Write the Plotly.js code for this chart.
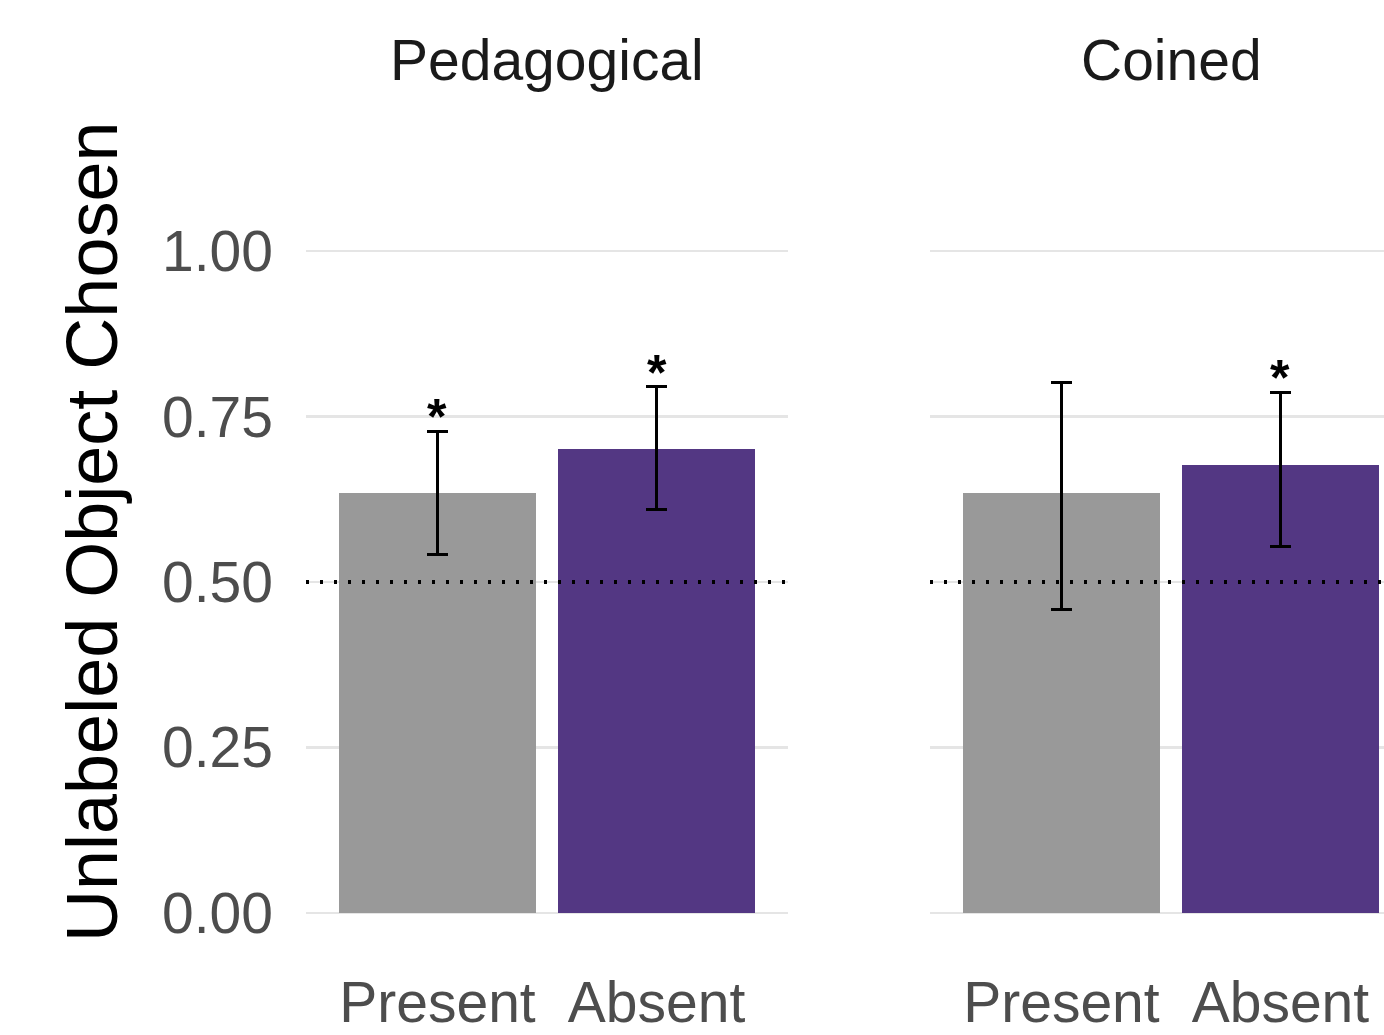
<!DOCTYPE html>
<html>
<head>
<meta charset="utf-8">
<script src="https://cdn.plot.ly/plotly-3.0.1.min.js"></script>
<style>html,body{margin:0;padding:0;background:#fff;}#chart{width:1384px;height:1035px;}</style>
</head>
<body>
<div id="chart"></div>
<script>
// Data
const panels = ["Pedagogical", "Coined"];
const conditions = ["Present", "Absent"];
const pedMean = [0.634, 0.701];
const pedUpper = [0.728, 0.795];
const pedLower = [0.541, 0.610];
const pedSig = ["*", "*"];
const coiMean = [0.634, 0.677];
const coiUpper = [0.801, 0.787];
const coiLower = [0.458, 0.554];
const coiSig = ["", "*"];
const chance = 0.5;
const yTicks = [0, 0.25, 0.5, 0.75, 1.0];
const yTickText = ["0.00", "0.25", "0.50", "0.75", "1.00"];
const yTitle = "Unlabeled Object Chosen";

const barColors = ["#999999", "#533783"];
const xpos = [1, 2];
const FONT = "Liberation Sans, Arial, sans-serif";

function barTrace(means, upper, lower, xa) {
  return {
    type: "bar",
    x: xpos,
    y: means,
    width: 0.9,
    xaxis: xa, yaxis: "y",
    marker: {color: barColors, line: {width: 0}},
    error_y: {
      type: "data", symmetric: false,
      array: upper.map((u, i) => u - means[i]),
      arrayminus: means.map((m, i) => m - lower[i]),
      color: "#000000", thickness: 3, width: 10.5
    },
    hoverinfo: "skip",
    showlegend: false
  };
}

const traces = [
  barTrace(pedMean, pedUpper, pedLower, "x"),
  barTrace(coiMean, coiUpper, coiLower, "x2")
];

const annotations = [];
function addSig(sig, upper, xref) {
  sig.forEach((s, i) => {
    if (!s) return;
    annotations.push({
      text: "<b>" + s + "</b>", x: xpos[i], y: upper[i], xref: xref, yref: "y",
      showarrow: false, yanchor: "bottom", yshift: -16,
      font: {family: FONT, size: 50, color: "#000"}
    });
  });
}
addSig(pedSig, pedUpper, "x");
addSig(coiSig, coiUpper, "x2");

// facet strip titles (centres of panel 1 and of the full, clipped panel 2)
const stripX = [(547 - 306) / 1078, (1171 - 306) / 1078];
panels.forEach((p, k) => {
  annotations.push({
    text: p, xref: "paper", yref: "paper",
    x: stripX[k], xanchor: "center", y: 1, yanchor: "bottom", yshift: 124,
    showarrow: false,
    font: {family: FONT, size: 57, color: "#1a1a1a"}
  });
});

// y-axis title
annotations.push({
  text: yTitle, xref: "paper", yref: "paper",
  x: (92 - 306) / 1078, y: (946 - 532) / 728, xanchor: "center", yanchor: "middle",
  textangle: -90, showarrow: false,
  font: {family: FONT, size: 72, color: "#000"}
});

const dotLine = {color: "#000", width: 4, dash: "3px,11px"};
const shapes = [
  {type: "line", xref: "x", yref: "y", x0: 0.4, x1: 2.6, y0: chance, y1: chance, line: dotLine, layer: "above"},
  {type: "line", xref: "x2", yref: "y", x0: 0.4, x1: 2.6, y0: chance, y1: chance, line: dotLine, layer: "above"}
];

const xaxisBase = {
  tickvals: xpos, ticktext: conditions, showgrid: false, zeroline: false,
  showline: false, ticks: "", ticklabelstandoff: 18,
  tickfont: {family: FONT, size: 57, color: "#4d4d4d"},
  fixedrange: true
};

const layout = {
  width: 1384, height: 1035,
  margin: {l: 306, r: 0, t: 218, b: 89},
  paper_bgcolor: "#fff", plot_bgcolor: "#fff",
  bargap: 0,
  xaxis: Object.assign({}, xaxisBase, {domain: [0, 482 / 1078], range: [0.4, 2.6]}),
  xaxis2: Object.assign({}, xaxisBase, {domain: [(930 - 306) / 1078, 1], range: [0.4, 2.473], anchor: "y"}),
  yaxis: {
    range: [-0.05, 1.05], tickvals: yTicks, ticktext: yTickText,
    showgrid: true, gridcolor: "#e5e5e5", gridwidth: 2.5, zeroline: false,
    showline: false, ticks: "", ticklabelstandoff: 32,
    tickfont: {family: FONT, size: 57, color: "#4d4d4d"},
    fixedrange: true
  },
  annotations: annotations,
  shapes: shapes
};

Plotly.newPlot("chart", traces, layout, {displayModeBar: false, staticPlot: true});
</script>
</body>
</html>
